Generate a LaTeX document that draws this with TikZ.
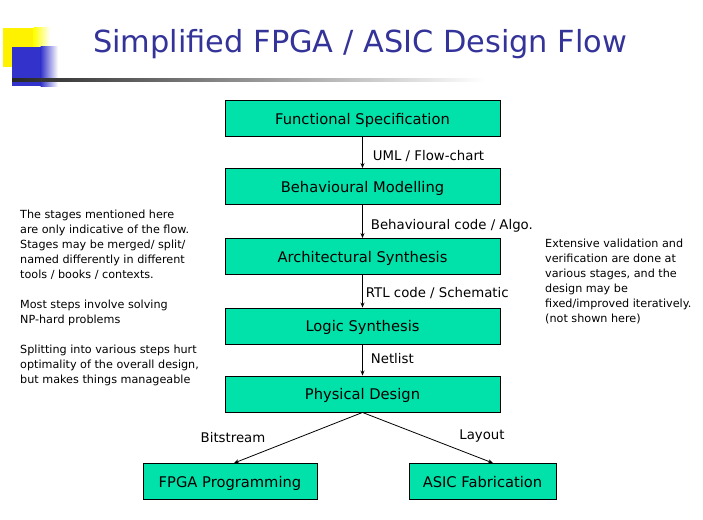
\documentclass[tikz,border=0pt]{standalone}
\usepackage{fontspec}
\setmainfont{DejaVu Sans}
\usepackage{tikz}
\usetikzlibrary{arrows.meta, positioning}
\usepackage{xcolor}
\definecolor{stagegreen}{RGB}{0,226,170}
\definecolor{titleblue}{RGB}{51,51,153}
\definecolor{squareblue}{RGB}{51,51,204}

\begin{document}
\begin{tikzpicture}[x=1pt, y=-1pt,
    stage/.style={draw=black, line width=0.9pt, fill=stagegreen, minimum width=275pt,
        minimum height=36pt, inner sep=0pt, text depth=0pt, text height=11pt,
        font=\fontsize{14.7}{17}\selectfont},
    flow/.style={-{Stealth[length=5pt,width=4pt]}, line width=0.8pt},
    lbl/.style={font=\fontsize{13.3}{15}\selectfont, inner sep=0pt},
    note/.style={font=\fontsize{11.2}{15}\selectfont, align=left, inner sep=0pt}]
    \useasboundingbox (0,0) rectangle (703,519);

    % 标题装饰
    \fill[yellow] (3,28) rectangle (34,67);
    \shade[left color=yellow, right color=white] (33.5,28) rectangle (50,67);
    \fill[squareblue] (12,47) rectangle (41,86);
    \shade[left color=squareblue, right color=white] (40.5,47) rectangle (58,86);
    \shade[left color=black!85, right color=white] (12,78) rectangle (485,81);

    % 标题
    \node[titleblue, font=\fontsize{30.4}{35}\selectfont, anchor=west, inner sep=0pt]
        (title) at (93,44) {Simplified FPGA / ASIC Design Flow};

    % 各阶段
    \node[stage] (spec) at (362.5,118.5) {Functional Specification};
    \node[stage] (behav) at (362.5,186.5) {Behavioural Modelling};
    \node[stage] (arch) at (362.5,256.5) {Architectural Synthesis};
    \node[stage] (logic) at (362.5,326) {Logic Synthesis};
    \node[stage] (phys) at (362.5,394) {Physical Design};
    \node[stage, minimum width=174pt] (fpga) at (230,481.5) {FPGA Programming};
    \node[stage, minimum width=147pt] (asic) at (482.5,481.5) {ASIC Fabrication};

    % 连线
    \draw[flow] (spec) -- (behav) node[lbl, pos=0.62, right=10pt] {UML / Flow-chart};
    \draw[flow] (behav) -- (arch) node[lbl, pos=0.64, right=8pt] {Behavioural code / Algo.};
    \draw[flow] (arch) -- (logic) node[lbl, pos=0.56, right=3pt] {RTL code / Schematic};
    \draw[flow] (logic) -- (phys) node[lbl, pos=0.45, right=8pt] {Netlist};
    \draw[flow] (phys.south) -- (fpga.north -| 234,0);
    \draw[flow] (phys.south) -- (asic.north -| 493,0);
    \node[lbl] (bits) at (233,438) {Bitstream};
    \node[lbl] (lay) at (482,436) {Layout};

    % 说明文字
    \node[note, anchor=north west] (left) at (20,210) {The stages mentioned here\\
        are only indicative of the flow.\\Stages may be merged/ split/\\
        named differently in different\\tools / books / contexts.\\[15pt]
        Most steps involve solving\\NP-hard problems\\[15pt]
        Splitting into various steps hurt\\optimality of the overall design,\\
        but makes things manageable};
    \node[note, anchor=north west] (right) at (545,239) {Extensive validation and\\
        verification are done at\\various stages, and the\\design may be\\
        fixed/improved iteratively.\\(not shown here)};
\end{tikzpicture}
\end{document}
